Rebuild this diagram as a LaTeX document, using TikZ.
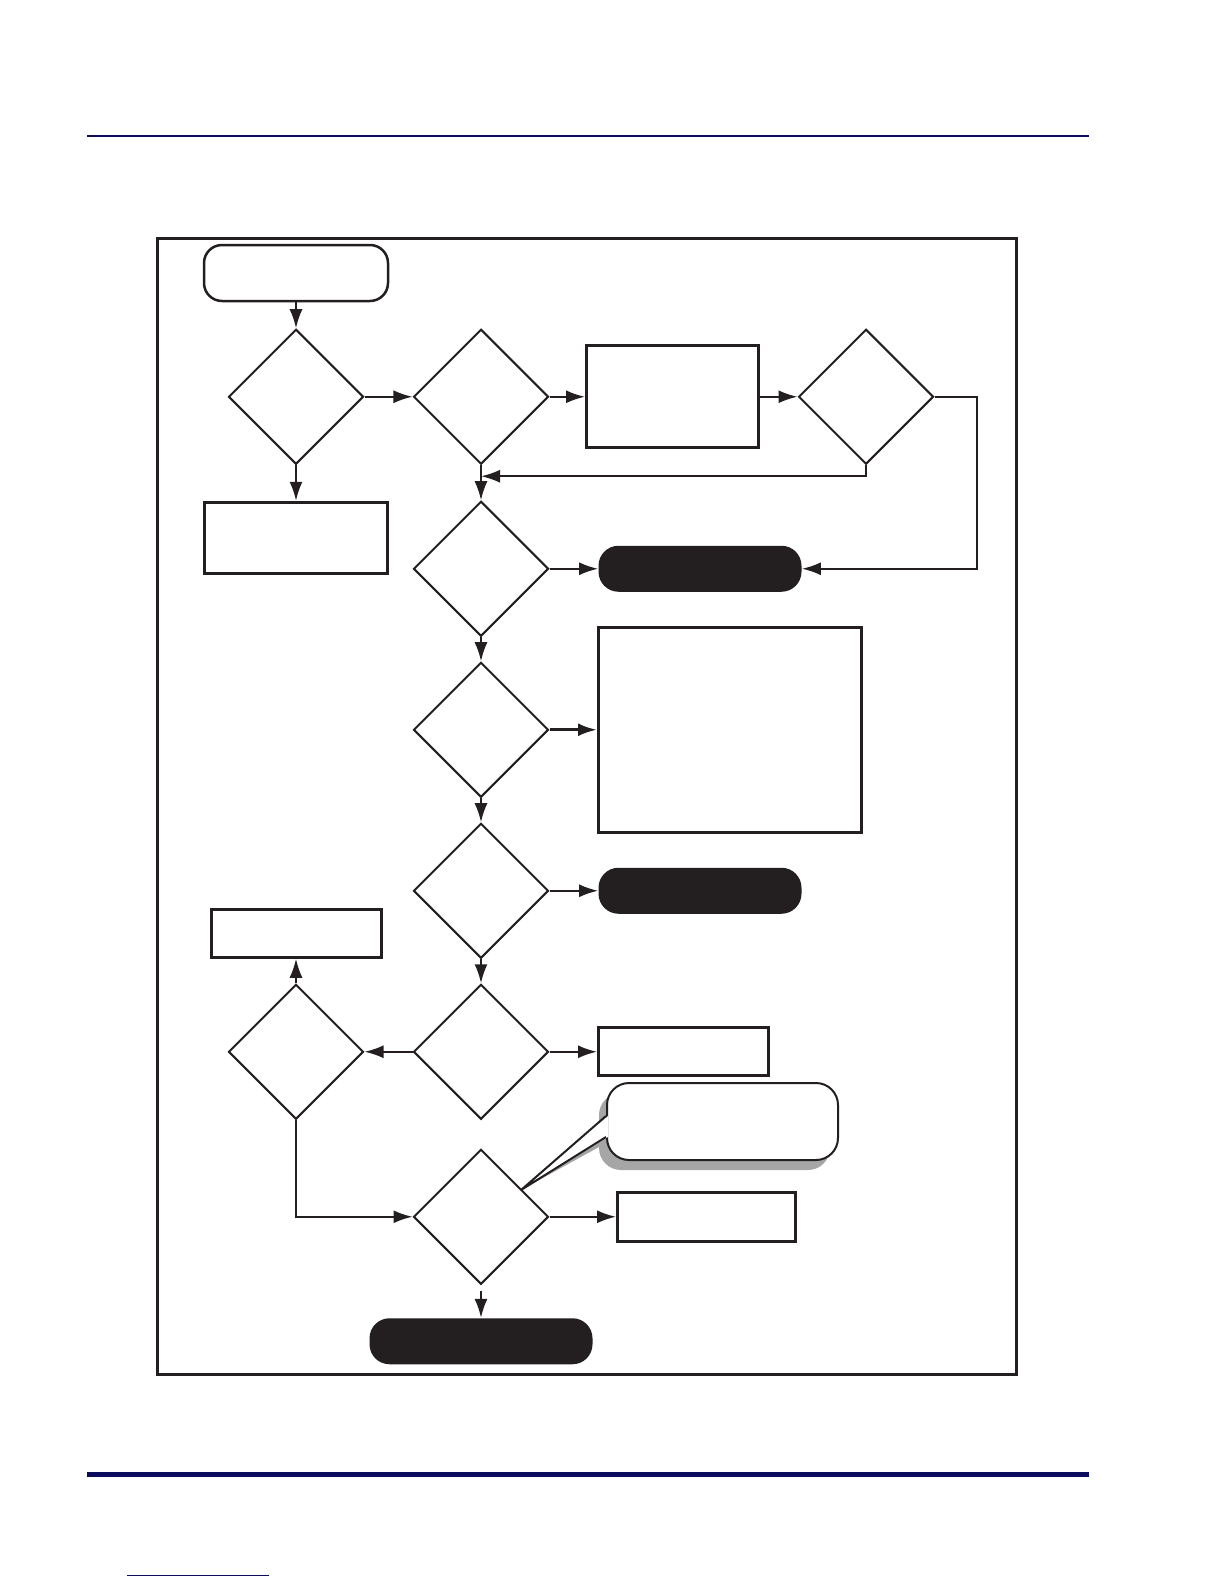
\documentclass[tikz,border=0pt]{standalone}
\usepackage{tikz}
\usetikzlibrary{arrows.meta,positioning,shapes.geometric,shadows}
\definecolor{ink}{RGB}{35,31,32}
\definecolor{rulenavy}{RGB}{12,12,92}

\begin{document}
\begin{tikzpicture}[
  x=0.5pt, y=-0.5pt,
  decision/.style={draw=ink, line width=1pt, diamond, aspect=1, inner sep=0pt, minimum width=67.5pt, minimum height=67.5pt},
  box/.style={draw=ink, line width=1.5pt, inner sep=0pt},
  terminal/.style={draw=ink, line width=1.25pt, rounded corners=9pt, inner sep=0pt, minimum width=92pt, minimum height=28pt},
  pill/.style={fill=ink, rounded corners=10pt, inner sep=0pt, minimum width=101.5pt, minimum height=23pt},
  note/.style={draw=ink, fill=white, line width=1pt, rounded corners=11pt, inner sep=0pt, minimum width=115.5pt, minimum height=38.5pt,
    drop shadow={shadow xshift=-4pt, shadow yshift=-5pt, fill=black!35, opacity=1}},
  arrow/.style={-{Latex[length=9.5pt, width=6.5pt]}, draw=ink, line width=1pt}
]
\useasboundingbox (0,0) rectangle (1224,1584);
\draw[rulenavy, line width=0.75pt] (87,136) -- (1089,136);
\draw[rulenavy, line width=2.5pt] (87,1474.5) -- (1089,1474.5);
\draw[rulenavy, line width=0.5pt] (127,1575) -- (269,1575);
\draw[ink, line width=1.5pt] (157,238) rectangle (1016,1374);

\node[terminal] (start) at (296,273) {};
\node[decision, below=13pt of start] (d1) {};
\node[decision, right=24pt of d1] (d2) {};
\node[box, right=17.75pt of d2, minimum width=86pt, minimum height=51pt] (boxa) {};
\node[decision, right=18.75pt of boxa] (d4) {};
\node[box, below=17.75pt of d1, minimum width=91.5pt, minimum height=35.5pt] (boxb) {};
\node[decision, below=17.5pt of d2] (d3) {};
\node[pill, right=24.3pt of d3] (stopa) {};
\node[decision, below=12pt of d3] (d5) {};
\node[box, right=23.75pt of d5, minimum width=131.5pt, minimum height=102.5pt] (bigbox) {};
\node[decision, below=12pt of d5] (d6) {};
\node[pill, right=24.3pt of d6] (stopb) {};
\node[decision, below=12pt of d6] (d7) {};
\node[box, right=23.75pt of d7, minimum width=85pt, minimum height=24pt] (boxc) {};
\node[decision, left=24pt of d7] (d8) {};
\node[box, above=12.25pt of d8, minimum width=85pt, minimum height=24pt] (boxd) {};
\node[decision, below=14pt of d7] (d9) {};
\node[box, right=33.25pt of d9, minimum width=89pt, minimum height=24.5pt] (boxe) {};
\node[pill, below=16.3pt of d9, minimum width=111.5pt] (stopc) {};

\coordinate (tip) at (521,1190);
\fill[black!35] (tip) -- (599,1126) -- (599,1147) -- cycle;
\node[note] (callout) at (722.5,1121.5) {};
\fill[white] (tip) -- ([xshift=1pt, yshift=2.75pt]callout.west) -- ([xshift=1pt, yshift=-7.75pt]callout.west) -- cycle;
\draw[ink, line width=1pt] ([yshift=2.75pt]callout.west) -- (tip) -- ([yshift=-7.75pt]callout.west);

\path (d2.south) ++(0,11) coordinate (join);
\draw[arrow] (start) -- (d1);
\draw[arrow] (d1) -- (d2);
\draw[arrow] (d1) -- (boxb);
\draw[arrow] (d2) -- (boxa);
\draw[arrow] (boxa) -- (d4);
\draw[arrow] (d4.south) |- (join);
\draw[arrow] (d4.east) -- ++(42,0) |- (stopa.east);
\draw[arrow] (d2) -- (d3);
\draw[arrow] (d3) -- (stopa);
\draw[arrow] (d3) -- (d5);
\draw[arrow, line width=1.5pt] (d5) -- (bigbox);
\draw[arrow] (d5) -- (d6);
\draw[arrow] (d6) -- (stopb);
\draw[arrow] (d6) -- (d7);
\draw[arrow] (d7) -- (boxc);
\draw[arrow] (d7) -- (d8);
\draw[arrow] (d8) -- (boxd);
\draw[arrow] (d8.south) |- (d9.west);
\draw[arrow] (d9) -- (boxe);
\draw[arrow, shorten <=3pt] (d9) -- (stopc);
\end{tikzpicture}
\end{document}
